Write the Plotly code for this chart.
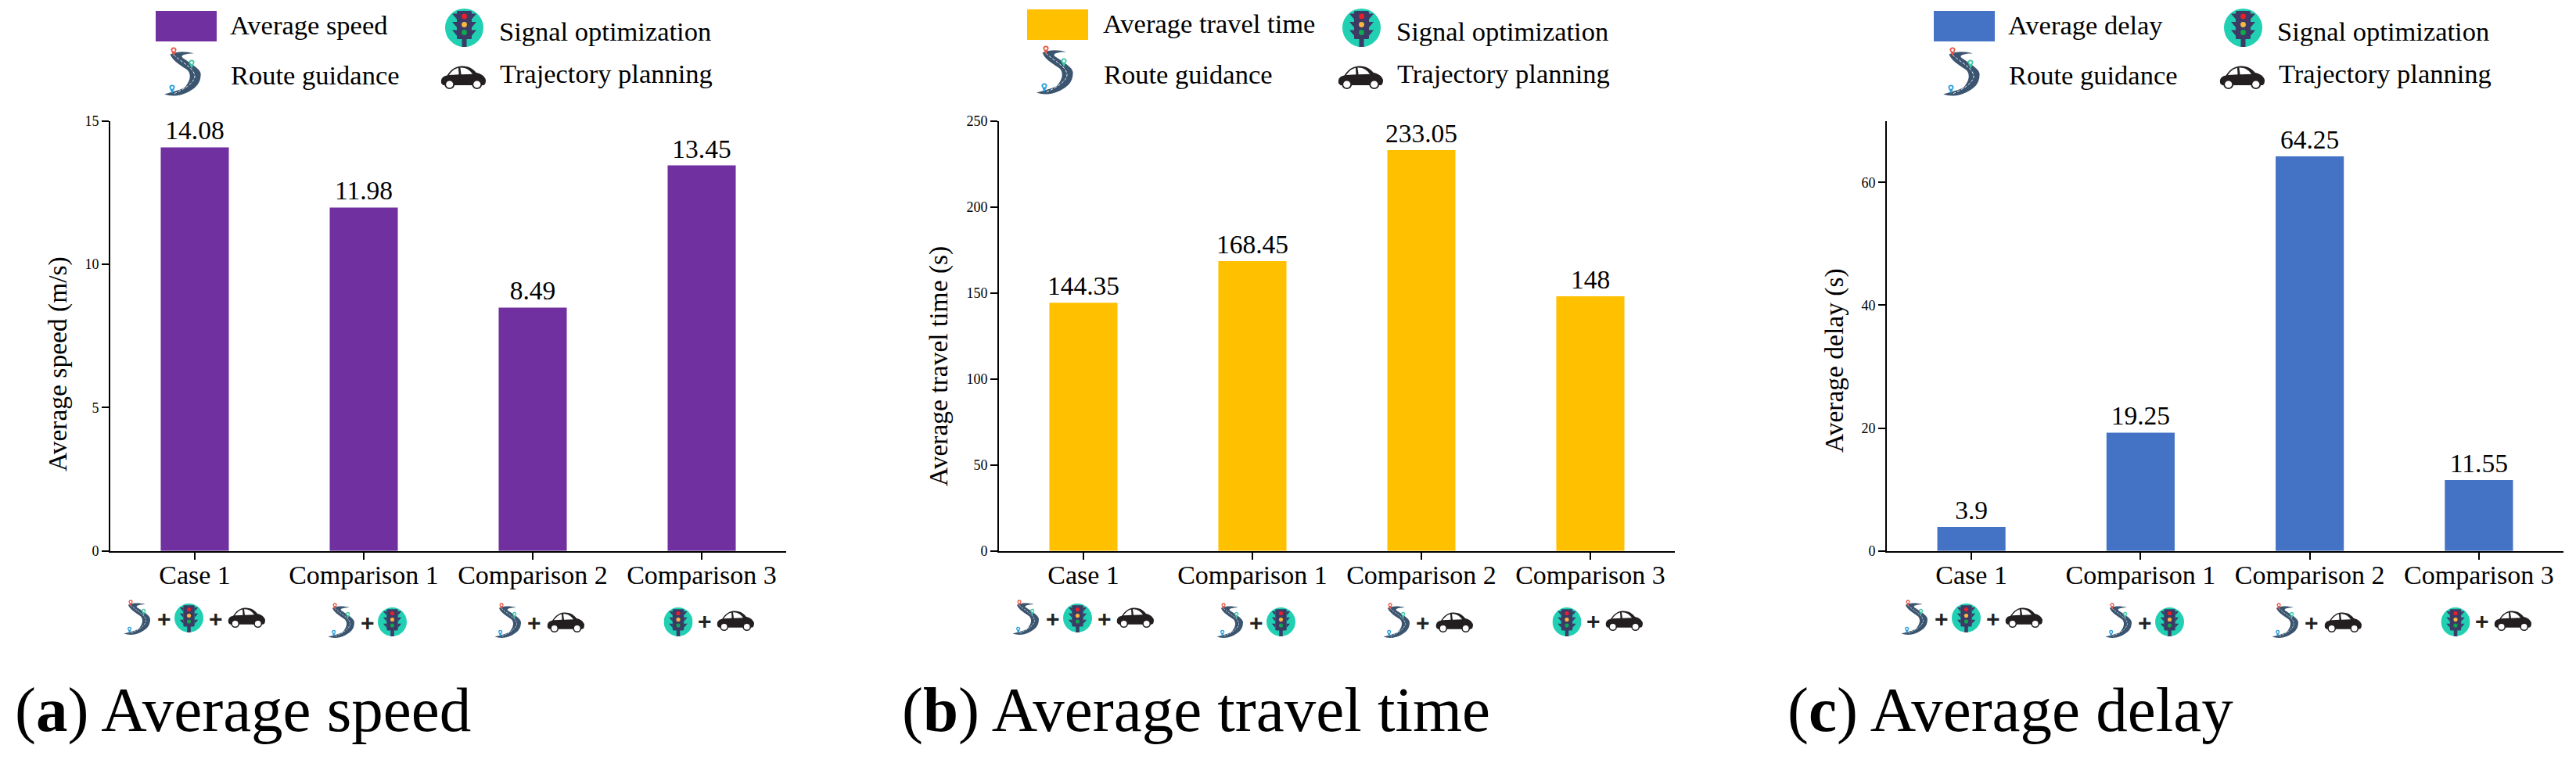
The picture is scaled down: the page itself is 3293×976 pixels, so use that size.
import base64
import plotly.graph_objects as go

W, H = 3293, 976

# ---------- data ----------
categories = ["Case 1", "Comparison 1", "Comparison 2", "Comparison 3"]
speed_values = [14.08, 11.98, 8.49, 13.45]
travel_values = [144.35, 168.45, 233.05, 148]
delay_values = [3.9, 19.25, 64.25, 11.55]
speed_ticks = [0, 5, 10, 15]
travel_ticks = [0, 50, 100, 150, 200, 250]
delay_ticks = [0, 20, 40, 60]
y_maxima = [15, 250, 70]
y_titles = ["Average speed (m/s)", "Average travel time (s)", "Average delay (s)"]
series_names = ["Average speed", "Average travel time", "Average delay"]
captions = ["Average speed", "Average travel time", "Average delay"]
caption_letters = ["a", "b", "c"]
colours = ["#7030A0", "#FFC000", "#4472C4"]
legend_signal = "Signal optimization"
legend_route = "Route guidance"
legend_traj = "Trajectory planning"

# ---------- layout (pixels) ----------
FONT = "Liberation Serif"
TOP, BOTTOM = 154.7, 704.7
axis_spans = [(141, 1005), (1277, 2141), (2412, 3277)]
icon_offsets = [0, 1136, 2272]
title_centres = [(74, 466), (1200, 469), (2345, 461)]
caption_x = [19, 1153, 2285]
legends = [
    dict(rect=(199, 277, 14, 53), avg=(294, 44), sig=(638, 52), route=(294.5, 108), traj=(639, 106),
         icon_sig=(569, 11), icon_route=(208, 60), icon_car=(563, 84)),
    dict(rect=(1313, 1391, 12, 51), avg=(1410, 42), sig=(1784.5, 52), route=(1410.7, 107), traj=(1786, 106),
         icon_sig=(1716, 11), icon_route=(1323, 58), icon_car=(1710, 84)),
    dict(rect=(2472, 2550, 14, 53), avg=(2567, 44), sig=(2911, 52), route=(2568, 108), traj=(2913, 106),
         icon_sig=(2843, 11), icon_route=(2482, 60), icon_car=(2837, 84)),
]
# icon rows under the axis: kind, left x, top y (panel a; other panels are shifted)
icon_row = [
    ("route", 157, 767), ("plus", 210, 791), ("signal", 223, 772), ("plus", 276, 791), ("car", 291, 777),
    ("route", 418, 771), ("plus", 469.5, 796), ("signal", 483, 777),
    ("route", 631, 771), ("plus", 683, 796), ("car", 699, 783),
    ("signal", 848.5, 777), ("plus", 900.5, 794), ("car", 916, 781),
]


def px(x):
    return x / W


def py(y):
    return 1 - y / H


def uri(body, vw, vh):
    svg = (f'<svg xmlns="http://www.w3.org/2000/svg" width="{vw*4}" height="{vh*4}" '
           f'viewBox="0 0 {vw} {vh}" preserveAspectRatio="none">{body}</svg>')
    return "data:image/svg+xml;base64," + base64.b64encode(svg.encode()).decode()


def pin(cx, cy, c):
    return (f'<path d="M{cx-3.6} {cy} A3.6 3.6 0 1 1 {cx+3.6} {cy} L{cx} {cy+8} Z" fill="{c}"/>'
            f'<circle cx="{cx}" cy="{cy}" r="1.7" fill="#fff"/>')


ROUTE = uri(
    '<path d="M40 8.3 C30 6 20 5 9.5 9.5 C14 20 26 25 32 30 C37 36 35 44 28 52 C20 56 10 58 2 60.5 '
    'C10 63 20 64 32 58 C42 53 48 47 48.5 37 C50 30 42 25 27 15 C22 12 24 9 40 8.3 Z" fill="#3b5570"/>'
    '<path d="M14 10 C24 20 41 27 41 38 C40 46 28 54 14 60" fill="none" stroke="#fff" '
    'stroke-width="0.9" stroke-dasharray="3.5 2"/>'
    + pin(14, 4, "#e8584a") + pin(37, 20, "#3fc9a5") + pin(12, 52, "#2a9fdc"), 50, 64)

visor = "".join(
    f'<path d="M15 {y} L9 {y} L15 {y+7} Z M34 {y} L40 {y} L34 {y+7} Z" fill="#3b3b66"/>'
    for y in (6.5, 17, 27.5))
SIGNAL = uri(
    '<circle cx="24.5" cy="24.5" r="24.5" fill="#21d0b2"/>'
    '<rect x="21.5" y="38" width="6" height="11" fill="#3b3b66"/>'
    '<rect x="15" y="3" width="19" height="36" rx="1.5" fill="#3b3b66"/>' + visor +
    '<circle cx="24.5" cy="10" r="3.4" fill="#e8202a"/>'
    '<circle cx="24.5" cy="20.5" r="3.4" fill="#fbb83c"/>'
    '<circle cx="24.5" cy="30.5" r="3.4" fill="#10a84f"/>', 49, 49)

CAR = uri(
    '<path d="M1 20 C0 15 2 12 7 11 C11 5 15 1 22 .5 C30 0 35 4 38 8 C43 9 47 12 48 16 '
    'C48 20 47 22 45 22 L3 22 Z" fill="#231f20"/>'
    '<path d="M9 10.5 C12 6 15 3.5 19 2.5 L19.5 10 Z M21 2.3 C27 2 31 5 34 9.5 L22 10 Z" fill="#fff"/>'
    '<circle cx="9.7" cy="21" r="5.4" fill="#231f20"/><circle cx="9.7" cy="21" r="3.8" fill="#fff"/>'
    '<circle cx="38.7" cy="21" r="5.4" fill="#231f20"/><circle cx="38.7" cy="21" r="3.8" fill="#fff"/>',
    48, 26.4)

ICON = {"route": (ROUTE, 36, 46), "signal": (SIGNAL, 37, 37), "car": (CAR, 48, 26)}


def image(src, x, y, w, h):
    return dict(source=src, xref="paper", yref="paper", x=px(x), y=py(y), sizex=w / W, sizey=h / H,
                xanchor="left", yanchor="top", sizing="stretch", layer="above")


def label(text, x, baseline, size, anchor="left", family=FONT):
    return dict(text=text, xref="paper", yref="paper", x=px(x), y=py(baseline - 0.3375 * size),
                xanchor=anchor, yanchor="middle", showarrow=False, borderpad=0, borderwidth=0,
                font=dict(family=family, size=size, color="#000"))


fig = go.Figure()
annotations, images, shapes = [], [], []
all_values = [speed_values, travel_values, delay_values]
all_ticks = [speed_ticks, travel_ticks, delay_ticks]

for i in range(3):
    suffix = "" if i == 0 else str(i + 1)
    fig.add_trace(go.Bar(
        x=categories, y=all_values[i], name=series_names[i], width=0.403,
        marker=dict(color=colours[i], line=dict(width=0)),
        text=[str(v) for v in all_values[i]], textposition="outside", cliponaxis=False,
        constraintext="none", textfont=dict(family=FONT, size=33.5, color="#000"),
        xaxis="x" + suffix, yaxis="y" + suffix, showlegend=False))
    x0, x1 = axis_spans[i]
    fig.layout["xaxis" + suffix] = dict(
        domain=[px(x0), px(x1)], anchor="y" + suffix, type="category", range=[-0.5, 3.5],
        categoryorder="array", categoryarray=categories, automargin=False,
        showline=True, linecolor="#000", linewidth=2.4, ticks="outside", ticklen=9, tickwidth=2,
        tickcolor="#000", showgrid=False, zeroline=False, ticklabelstandoff=-10,
        tickfont=dict(family=FONT, size=34, color="#000"), tickangle=0)
    fig.layout["yaxis" + suffix] = dict(
        domain=[py(BOTTOM), py(TOP)], anchor="x" + suffix, range=[0, y_maxima[i]], automargin=False,
        tickmode="array", tickvals=all_ticks[i], ticktext=[str(t) for t in all_ticks[i]],
        showline=True, linecolor="#000", linewidth=2, ticks="outside", ticklen=9, tickwidth=2,
        tickcolor="#000", showgrid=False, zeroline=False,
        tickfont=dict(family=FONT, size=18, color="#000"))

    # y title
    tx, ty = title_centres[i]
    a = label(y_titles[i], tx, ty, 33.5, "center")
    a["y"] = py(ty)
    a["textangle"] = -90
    annotations.append(a)

    # caption
    annotations.append(label(f"(<b>{caption_letters[i]}</b>) {captions[i]}", caption_x[i], 935, 81))

    # legend
    L = legends[i]
    rx0, rx1, ry0, ry1 = L["rect"]
    shapes.append(dict(type="rect", xref="paper", yref="paper", x0=px(rx0), x1=px(rx1), y0=py(ry1), y1=py(ry0),
                       fillcolor=colours[i], line=dict(width=0)))
    annotations.append(label(series_names[i], *L["avg"], 34.5))
    annotations.append(label(legend_signal, *L["sig"], 34.5))
    annotations.append(label(legend_route, *L["route"], 34.5))
    annotations.append(label(legend_traj, *L["traj"], 34.5))
    images.append(image(SIGNAL, *L["icon_sig"], 49, 49))
    images.append(image(ROUTE, *L["icon_route"], 50, 64))
    images.append(image(CAR, *L["icon_car"], 58, 30))

    # icon row under the axis
    for kind, ix, iy in icon_row:
        ix = ix + icon_offsets[i]
        if kind == "plus":
            annotations.append(dict(
                text="<b>+</b>", xref="paper", yref="paper", x=px(ix), y=py(iy), xanchor="center", yanchor="middle",
                showarrow=False, font=dict(family="Liberation Sans", size=30, color="#222")))
        else:
            src, w, h = ICON[kind]
            images.append(image(src, ix, iy, w, h))

fig.update_layout(
    width=W, height=H, autosize=False, margin=dict(l=0, r=0, t=0, b=0, autoexpand=False),
    paper_bgcolor="#fff", plot_bgcolor="#fff", annotations=annotations, images=images, shapes=shapes,
    font=dict(family=FONT), showlegend=False)

fig.write_html("out.html", post_script="document.body.style.margin='0';document.body.style.overflow='hidden';",
               config=dict(displayModeBar=False))
